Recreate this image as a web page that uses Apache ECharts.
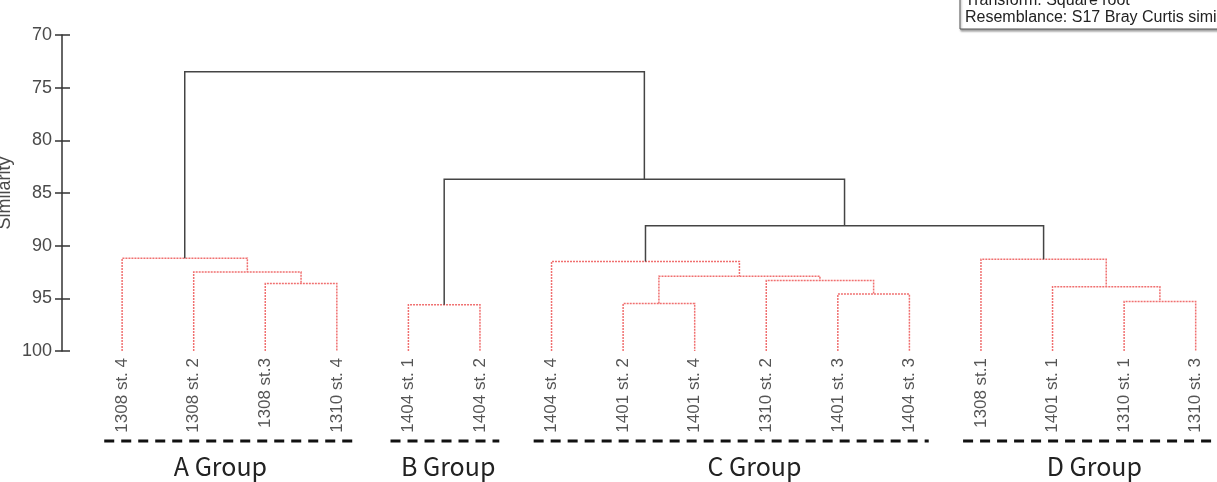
<!DOCTYPE html>
<html>
<head>
<meta charset="utf-8">
<script src="https://cdn.jsdelivr.net/npm/echarts@6/dist/echarts.min.js"></script>
<style>
  html, body { margin: 0; padding: 0; background: #fff; }
  #main { width: 1217px; height: 482px; }
</style>
</head>
<body>
<div id="main"></div>
<script>
(function(){
    var mychart = echarts.init(document.getElementById('main'));

    // leaves, left to right
    var leaves = ['1308 st. 4', '1308 st. 2', '1308 st.3', '1310 st. 4',
                  '1404 st. 1', '1404 st. 2',
                  '1404 st. 4', '1401 st. 2', '1401 st. 4', '1310 st. 2', '1401 st. 3', '1404 st. 3',
                  '1308 st.1', '1401 st. 1', '1310 st. 1', '1310 st. 3'];
    // merges: [node a, node b] -> new node id = 16 + index
    var mergePairs = [[2, 3], [1, 16], [0, 17],
                      [4, 5],
                      [10, 11], [9, 20], [7, 8], [22, 21], [6, 23],
                      [14, 15], [13, 25], [12, 26],
                      [24, 27], [19, 28], [18, 29]];
    var mergeHeights = [93.6, 92.5, 91.2,
                        95.6,
                        94.6, 93.3, 95.5, 92.9, 91.5,
                        95.3, 93.9, 91.3,
                        88.1, 83.7, 73.5];
    var yTicks = [70, 75, 80, 85, 90, 95, 100];
    var groupNames = ['A Group', 'B Group', 'C Group', 'D Group'];
    var groupFirst = [0, 4, 6, 12];
    var groupLast = [3, 5, 11, 15];

    var cut = 90; // merges above this similarity are drawn red dotted

    // node positions
    var nodeX = [], nodeY = [];
    for (var i = 0; i < leaves.length; i++) { nodeX.push(i); nodeY.push(100); }
    var redLinks = [], blackLinks = [];
    for (var m = 0; m < mergePairs.length; m++) {
        var a = mergePairs[m][0], b = mergePairs[m][1], h = mergeHeights[m];
        var seg = { coords: [[nodeX[a], nodeY[a]], [nodeX[a], h], [nodeX[b], h], [nodeX[b], nodeY[b]]] };
        (h > cut ? redLinks : blackLinks).push(seg);
        nodeX.push((nodeX[a] + nodeX[b]) / 2);
        nodeY.push(h);
    }

    var leafData = leaves.map(function(name, i){ return { value: [i, 100], name: name }; });

    var option = {
        animation: false,
        backgroundColor: '#fff',
        grid: { left: 62, right: 7, top: 35, bottom: 131, containLabel: false, outerBoundsMode: 'none' },
        xAxis: { type: 'value', min: -0.84, max: 15.2, show: false, axisLine: { onZero: false } },
        yAxis: [{
            type: 'value', inverse: true, min: yTicks[0], max: yTicks[yTicks.length - 1], interval: 5,
            position: 'left', offset: 0,
            name: 'Similarity', nameLocation: 'middle', nameGap: 48, nameMoveOverlap: false,
            nameTextStyle: { fontFamily: 'Liberation Sans', fontSize: 18, color: '#4a4a4a' },
            axisLine: { show: true, onZero: false, lineStyle: { color: '#333', width: 1.5 } },
            axisTick: { show: true, length: 7, lineStyle: { color: '#333', width: 1.5 } },
            axisLabel: { margin: 10, fontFamily: 'Liberation Sans', fontSize: 18, color: '#4a4a4a' },
            splitLine: { show: false }
        }, {
            type: 'value', inverse: true, min: yTicks[0], max: yTicks[yTicks.length - 1], interval: 5,
            position: 'left', offset: 0,
            axisLine: { show: false, onZero: false },
            axisTick: { show: true, inside: true, length: 8, lineStyle: { color: '#333', width: 1.5 } },
            axisLabel: { show: false },
            splitLine: { show: false }
        }],
        series: [{
            type: 'lines', coordinateSystem: 'cartesian2d', polyline: true, silent: true,
            lineStyle: { color: '#f07070', width: 1.5, type: [2, 1], opacity: 1 },
            data: redLinks
        }, {
            type: 'lines', coordinateSystem: 'cartesian2d', polyline: true, silent: true,
            lineStyle: { color: '#444', width: 1.5, opacity: 1 },
            data: blackLinks
        }, {
            type: 'scatter', symbolSize: 0, silent: true,
            data: leafData,
            label: {
                show: true, position: 'bottom', distance: 7, rotate: 90,
                align: 'right', verticalAlign: 'middle',
                fontFamily: 'Liberation Sans', fontSize: 17, color: '#2a2a2a',
                formatter: function(p){ return p.name; }
            }
        }]
    };
    mychart.setOption(option);

    // group annotations below the leaves
    var labelDx = [-9, 4, 24, 6];
    var graphics = [];
    for (var g = 0; g < groupNames.length; g++) {
        var x1 = mychart.convertToPixel({ gridIndex: 0 }, [groupFirst[g] - 0.25, 100])[0];
        var x2 = mychart.convertToPixel({ gridIndex: 0 }, [groupLast[g] + 0.27, 100])[0];
        var xm = mychart.convertToPixel({ gridIndex: 0 }, [(groupFirst[g] + groupLast[g]) / 2, 100])[0];
        graphics.push({
            type: 'line', silent: true,
            shape: { x1: x1, y1: 441, x2: x2, y2: 441 },
            style: { stroke: '#111', lineWidth: 3, lineDash: [10, 7] }
        });
        graphics.push({
            type: 'text', silent: true, x: xm + labelDx[g], y: 466,
            style: { text: groupNames[g], fill: '#222', font: '25px "Noto Sans CJK KR"',
                     textAlign: 'center', textVerticalAlign: 'middle' }
        });
    }
    // info box, top right
    graphics.push({
        type: 'rect', silent: true, shape: { x: 960, y: -20, width: 300, height: 49 },
        style: { fill: '#fff', stroke: '#555', lineWidth: 1,
                 shadowColor: 'rgba(0,0,0,0.35)', shadowOffsetX: 1, shadowOffsetY: 2, shadowBlur: 2 }
    });
    graphics.push({
        type: 'text', silent: true, x: 965, y: 1,
        style: { text: 'Transform: Square root', fill: '#222', font: '16px "Liberation Sans"', textVerticalAlign: 'middle' }
    });
    graphics.push({
        type: 'text', silent: true, x: 965, y: 18,
        style: { text: 'Resemblance: S17 Bray Curtis similarity', fill: '#222', font: '16px "Liberation Sans"', textVerticalAlign: 'middle' }
    });
    mychart.setOption({ graphic: graphics });
})();
</script>
</body>
</html>
